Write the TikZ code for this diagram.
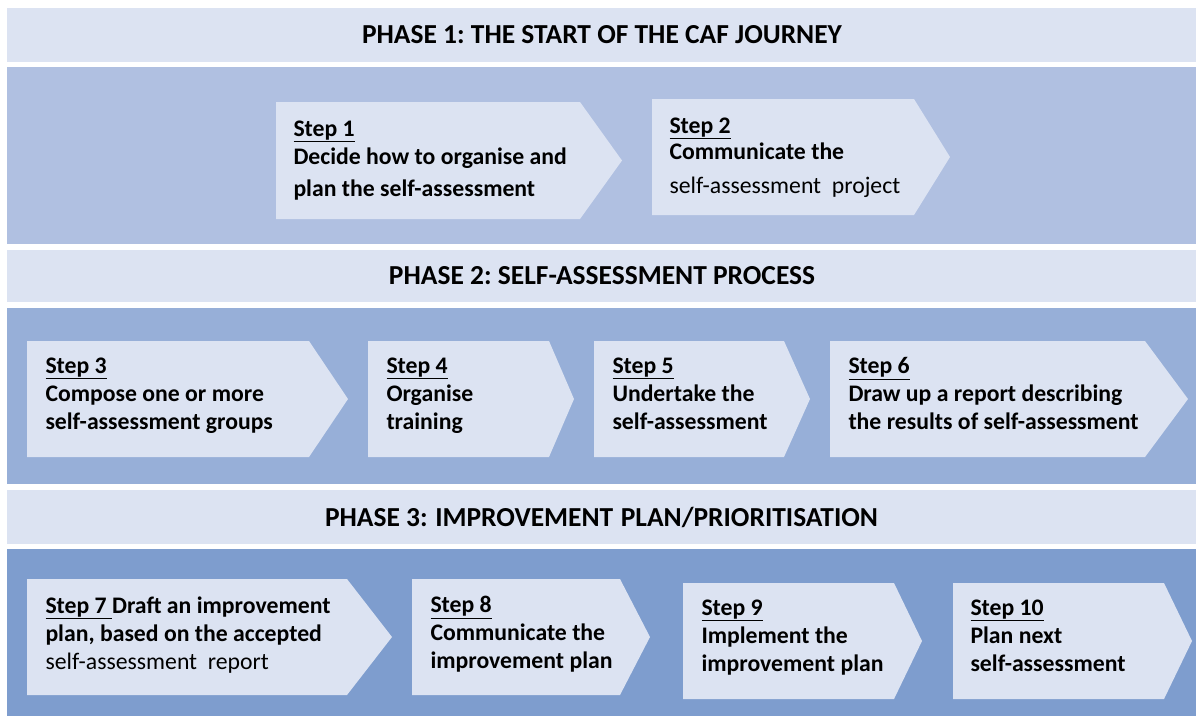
\documentclass[tikz,border=0pt]{standalone}
\usepackage{fontspec}
\setmainfont{Carlito}
\frenchspacing
\definecolor{bandlight}{RGB}{220,227,242}
\definecolor{bodyone}{RGB}{176,192,225}
\definecolor{bodytwo}{RGB}{151,175,216}
\definecolor{bodythree}{RGB}{126,157,206}
\tikzset{every picture/.style={line width=0.75pt}}
\tikzset{
  stepshape/.style={draw=none,fill=bandlight},
  steptext/.style={anchor=north west,inner sep=0pt,align=left,font=\fontsize{17.8}{21}\selectfont\bfseries},
  phasetext/.style={inner sep=0pt,font=\fontsize{20.6}{24}\selectfont\bfseries}
}

\begin{document}
\begin{tikzpicture}[x=0.75pt,y=0.75pt,yscale=-1,xscale=1]
\path[use as bounding box] (0,0) rectangle (1196,719);

%Shape: Rectangle [phase 1 header]
\draw [draw=none,fill=bandlight] (7,8) rectangle (1196,62) ;
%Shape: Rectangle [phase 1 body]
\draw [draw=none,fill=bodyone] (7,67) rectangle (1196,244) ;
%Shape: Rectangle [phase 2 header]
\draw [draw=none,fill=bandlight] (7,250) rectangle (1196,302) ;
%Shape: Rectangle [phase 2 body]
\draw [draw=none,fill=bodytwo] (7,308) rectangle (1196,484) ;
%Shape: Rectangle [phase 3 header]
\draw [draw=none,fill=bandlight] (7,490) rectangle (1196,544) ;
%Shape: Rectangle [phase 3 body]
\draw [draw=none,fill=bodythree] (7,549) rectangle (1196,716) ;

%Shape: Pentagon [step 1]
\draw [stepshape] (276,102) -- (580,102) -- (622,160.5) -- (580,219) -- (276,219) -- cycle ;
%Shape: Pentagon [step 2]
\draw [stepshape] (652,99) -- (914,99) -- (950,157) -- (914,215) -- (652,215) -- cycle ;
%Shape: Pentagon [step 3]
\draw [stepshape] (27,341) -- (309,341) -- (348,399) -- (309,457) -- (27,457) -- cycle ;
%Shape: Pentagon [step 4]
\draw [stepshape] (368,341) -- (549,341) -- (574,399) -- (549,457) -- (368,457) -- cycle ;
%Shape: Pentagon [step 5]
\draw [stepshape] (594,341) -- (784,341) -- (810,399) -- (784,457) -- (594,457) -- cycle ;
%Shape: Pentagon [step 6]
\draw [stepshape] (830,341) -- (1145,341) -- (1188,399) -- (1145,457) -- (830,457) -- cycle ;
%Shape: Pentagon [step 7]
\draw [stepshape] (27,579) -- (347,579) -- (392,637) -- (347,695) -- (27,695) -- cycle ;
%Shape: Pentagon [step 8]
\draw [stepshape] (412,579) -- (620,579) -- (650,637) -- (620,695) -- (412,695) -- cycle ;
%Shape: Pentagon [step 9]
\draw [stepshape] (683,583) -- (894,583) -- (922,641) -- (894,699) -- (683,699) -- cycle ;
%Shape: Pentagon [step 10]
\draw [stepshape] (953,583) -- (1164,583) -- (1192,641) -- (1164,699) -- (953,699) -- cycle ;

% Text Node
\draw (602,35) node [phasetext] (phaseone) {PHASE 1: THE START OF THE CAF JOURNEY};
% Text Node
\draw (602,276) node [phasetext] (phasetwo) {PHASE 2: SELF-ASSESSMENT PROCESS};
% Text Node
\draw (601.5,517) node [phasetext] (phasethree) {PHASE 3:\hspace{1pt} IMPROVEMENT\hspace{1pt} PLAN/PRIORITISATION};

% Text Node
\draw (293,120) node [steptext] (stepone) {\underline{Step 1}\\[0pt]Decide how to organise and\\[3pt]plan the self-assessment};
% Text Node
\draw (669,117) node [steptext] (steptwo) {\underline{Step 2}\\[-1pt]Communicate the\\[4pt]{\mdseries self-assessment\ \ project}};
% Text Node
\draw (45,357) node [steptext] (stepthree) {\underline{Step 3}\\Compose one or more\\self-assessment groups};
% Text Node
\draw (386,357) node [steptext] (stepfour) {\underline{Step 4}\\Organise\\training};
% Text Node
\draw (612,357) node [steptext] (stepfive) {\underline{Step 5}\\Undertake the\\self-assessment};
% Text Node
\draw (848,357) node [steptext] (stepsix) {\underline{Step 6}\\Draw up a report describing\\the results of self-assessment};
% Text Node
\draw (45,596) node [steptext] (stepseven) {\underline{Step 7\ }Draft an improvement\\plan, based on the accepted\\{\mdseries self-assessment\ \ report}};
% Text Node
\draw (430,596) node [steptext] (stepeight) {\underline{Step 8}\\Communicate the\\improvement plan};
% Text Node
\draw (701,599) node [steptext] (stepnine) {\underline{Step 9}\\Implement the\\improvement plan};
% Text Node
\draw (970,599) node [steptext] (stepten) {\underline{Step 10}\\Plan next\\self-assessment};

\end{tikzpicture}
\end{document}
